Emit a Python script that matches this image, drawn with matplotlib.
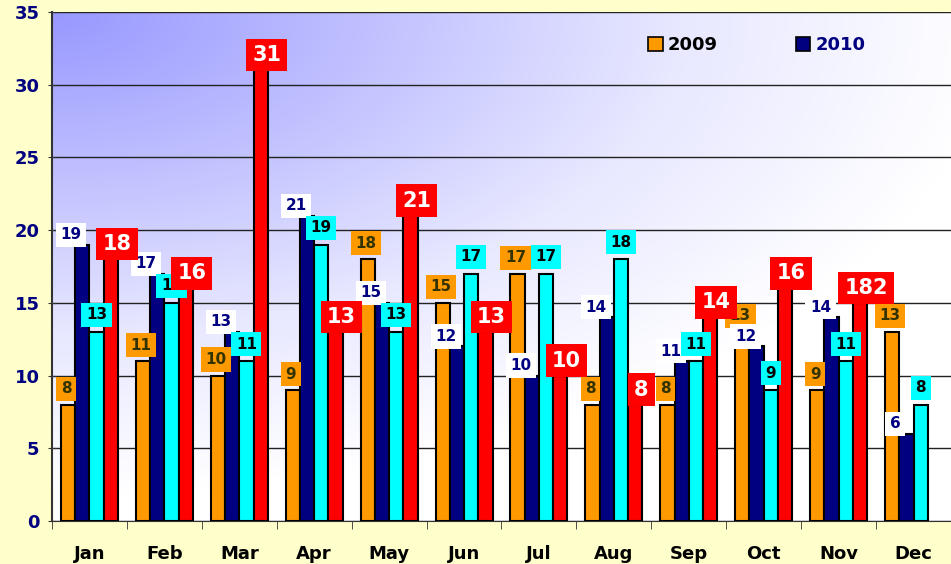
import numpy as np
import matplotlib.pyplot as plt
from matplotlib.colors import LinearSegmentedColormap

months = ["Jan", "Feb", "Mar", "Apr", "May", "Jun",
          "Jul", "Aug", "Sep", "Oct", "Nov", "Dec"]
orange_vals = [8, 11, 10, 9, 18, 15, 17, 8, 8, 13, 9, 13]
navy_vals = [19, 17, 13, 21, 15, 12, 10, 14, 11, 12, 14, 6]
cyan_vals = [13, 15, 11, 19, 13, 17, 17, 18, 11, 9, 11, 8]
red_vals = [18, 16, 31, 13, 21, 13, 10, 8, 14, 16, 15, np.nan]
red_labels = ["18", "16", "31", "13", "21", "13", "10", "8", "14", "16", "182", ""]
legend_names = ["2009", "2010"]
y_ticks = [0, 5, 10, 15, 20, 25, 30, 35]

bg = "#FFFFCC"
fig = plt.figure(figsize=(9.51, 5.64), dpi=100, facecolor=bg)
ax = fig.add_axes([52 / 951, (564 - 521) / 564, (951 - 52) / 951, 509 / 564])
ax.set_facecolor("none")

# gradient fill fading out from the top-left corner
gx, gy = np.meshgrid(np.linspace(0, 1, 300), np.linspace(0, 1, 200))
d = np.clip(np.sqrt((gx * 1.0) ** 2 + (gy * 1.1) ** 2) / 1.05, 0, 1)
cmap = LinearSegmentedColormap.from_list("bgfill", ["#9898FF", "#C0C0FF", "#E8E8FF", "#FFFFFF"])
ax.imshow(d, cmap=cmap, extent=[0, 12, 0, 35], origin="upper", aspect="auto",
          zorder=0, interpolation="bilinear")

x = np.arange(len(months)) + 0.5
w = 0.19
series = [
    (orange_vals, "#FF9900", -1.5, [str(v) for v in orange_vals], "#333300", "#FF9900", 11, (-2, 16)),
    (navy_vals, "#000080", -0.5, [str(v) for v in navy_vals], "#000080", "#FFFFFF", 11, (-11, 10)),
    (cyan_vals, "#00FFFF", 0.5, [str(v) for v in cyan_vals], "#000000", "#00FFFF", 11, (0, 17)),
    (red_vals, "#FF0000", 1.5, red_labels, "#FFFFFF", "#FF0000", 15, (6, 15)),
]

for vals, color, off, labels, tcolor, bcolor, fs, (dx, dy) in series:
    xs = x + off * w
    ax.bar(xs, vals, width=w, color=color, edgecolor="black", linewidth=1.5, zorder=3)
    for xi, v, lab in zip(xs, vals, labels):
        if np.isnan(v) or lab == "":
            continue
        ax.annotate(lab, (xi, v), xytext=(dx, dy), textcoords="offset pixels",
                    ha="center", va="center", fontsize=fs, fontweight="bold",
                    color=tcolor, zorder=5,
                    bbox=dict(boxstyle="square,pad=0.3", fc=bcolor, ec="none"))

ax.set_xlim(0, 12)
ax.set_ylim(0, 35)
ax.set_yticks(y_ticks)
ax.set_yticklabels([str(t) for t in y_ticks], fontsize=13, fontweight="bold", color="#000080")
ax.yaxis.grid(True, color="#222222", linewidth=1)
for gl in ax.get_ygridlines():
    gl.set_zorder(1)

ax.set_xticks(x)
ax.set_xticklabels(months, fontsize=13, fontweight="bold")
ax.set_xticks(np.arange(0, 13), minor=True)
ax.tick_params(axis="x", which="major", length=0, pad=17)
ax.tick_params(axis="x", which="minor", length=6, direction="out", color="#333333")
ax.tick_params(axis="y", length=6, direction="inout", color="#333333", pad=6)

for s in ["top", "right"]:
    ax.spines[s].set_visible(False)
ax.spines["left"].set_color("#333333")
ax.spines["bottom"].set_color("#333333")
ax.spines["left"].set_linewidth(1.5)

# legend for the two named series
h1 = plt.Rectangle((0, 0), 1, 1, fc="#FF9900", ec="black", lw=1.2)
h2 = plt.Rectangle((0, 0), 1, 1, fc="#000080", ec="black", lw=1.2)
leg = ax.legend([h1, h2], legend_names, loc="upper left", bbox_to_anchor=(0.645, 0.985),
                ncol=2, frameon=False, handlelength=0.8, handleheight=0.8,
                handletextpad=0.3, columnspacing=4.3, borderpad=0.4,
                prop=dict(size=13, weight="bold"))
leg.get_texts()[1].set_color("#000080")

fig.savefig("out.png", dpi=100, facecolor=bg)
